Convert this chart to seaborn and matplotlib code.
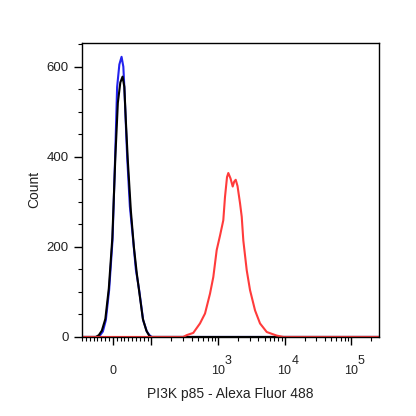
import numpy as np
import pandas as pd
import seaborn as sns
import matplotlib
matplotlib.use("Agg")
import matplotlib.pyplot as plt
from matplotlib.ticker import FixedLocator, NullFormatter

# ---- data (fluorescence intensity vs. event count) ----
blue_x = [-80, -41.5, -33.7, -25.9, -18.2, -9.6, -0.8, 6.0, 11.1, 16.9, 22.6, 27.2, 29.8,
          37.1, 44.1, 52.6, 59.6, 68.2, 78.6, 88.2, 95.9, 101.8, 262144]
blue_y = [0, 0, 3, 12, 37, 104, 215, 400, 555, 605, 622, 600, 555,
          400, 290, 215, 150, 104, 37, 12, 3, 0, 0]

black_x = [-80, -44.1, -36.3, -28.5, -19.4, -10.4, -1.3, 6.5, 13.0, 19.4, 25.2, 29.8, 33.7,
           38.9, 46.7, 54.5, 62.2, 70.0, 77.8, 86.9, 93.4, 98.6, 262144]
black_y = [0, 0, 4, 14, 40, 108, 220, 400, 520, 565, 578, 555, 480,
           390, 280, 200, 140, 90, 40, 14, 4, 0, 0]

red_x = [-80, 300, 338, 425, 536, 638, 758, 850, 956, 1072, 1201, 1274, 1366, 1429, 1542,
         1663, 1752, 1846, 1965, 2142, 2272, 2402, 2702, 3028, 3601, 4281, 5399, 7631,
         9594, 262144]
red_y = [0, 0, 4, 9, 30, 52, 96, 133, 193, 225, 259, 311, 355, 364, 352,
         334, 345, 349, 335, 297, 267, 214, 148, 104, 59, 30, 11, 3,
         0, 0]

series_names = ["Isotype", "Unstained", "PI3K p85"]
series_colors = ["#2222ee", "#000000", "#ff3b3b"]

x_major = [0, 100, 1000, 10000, 100000]
x_labels = [" \n0", "", "      3\n10", "      4\n10", "      5\n10"]
y_major = [0, 200, 400, 600]
y_minor = list(range(0, 651, 50))

x_minor = ([-v for v in range(10, 90, 10)] + list(range(10, 100, 10)) +
           [m * 10 ** e for e in (2, 3, 4) for m in range(2, 10)] + [200000])

df = pd.concat([
    pd.DataFrame({"x": blue_x, "count": blue_y, "series": series_names[0]}),
    pd.DataFrame({"x": black_x, "count": black_y, "series": series_names[1]}),
    pd.DataFrame({"x": red_x, "count": red_y, "series": series_names[2]}),
])

sns.set_style("white")
plt.rcParams["font.family"] = ["Liberation Sans", "DejaVu Sans"]

fig = plt.figure(figsize=(4.16, 4.16), dpi=100)
ax = fig.add_axes([0.197, 0.19, 0.714, 0.707])

sns.lineplot(data=df, x="x", y="count", hue="series", palette=dict(zip(series_names, series_colors)),
             estimator=None, sort=False, linewidth=1.5, legend=False, ax=ax)

ax.set_xscale("symlog", linthresh=100, linscale=0.522)
ax.set_xlim(-80, 262144)
ax.set_ylim(0, 653)

ax.xaxis.set_major_locator(FixedLocator(x_major))
ax.set_xticklabels(x_labels)
ax.xaxis.set_minor_locator(FixedLocator(x_minor))
ax.xaxis.set_minor_formatter(NullFormatter())
ax.set_yticks(y_major)
ax.yaxis.set_minor_locator(FixedLocator(y_minor))

ax.tick_params(axis="both", which="major", direction="out", length=5.5, width=1.0,
               color="black", labelcolor="#222222", bottom=True, left=True)
ax.tick_params(axis="both", which="minor", direction="out", length=3, width=0.8,
               color="black", bottom=True, left=True)
ax.tick_params(axis="x", which="major", pad=7.5, labelsize=9)
ax.tick_params(axis="y", which="major", pad=4, labelsize=9.5)
for t in ax.xaxis.get_major_ticks():
    t.label1.set_linespacing(0.78)

for s in ax.spines.values():
    s.set_visible(True)
    s.set_color("black")
    s.set_linewidth(1.0)

ax.set_xlabel("PI3K p85 - Alexa Fluor 488", fontsize=10, color="#222222", labelpad=7)
ax.set_ylabel("Count", fontsize=10, color="#222222", labelpad=4)

fig.savefig("out.png", dpi=100, facecolor="white")
